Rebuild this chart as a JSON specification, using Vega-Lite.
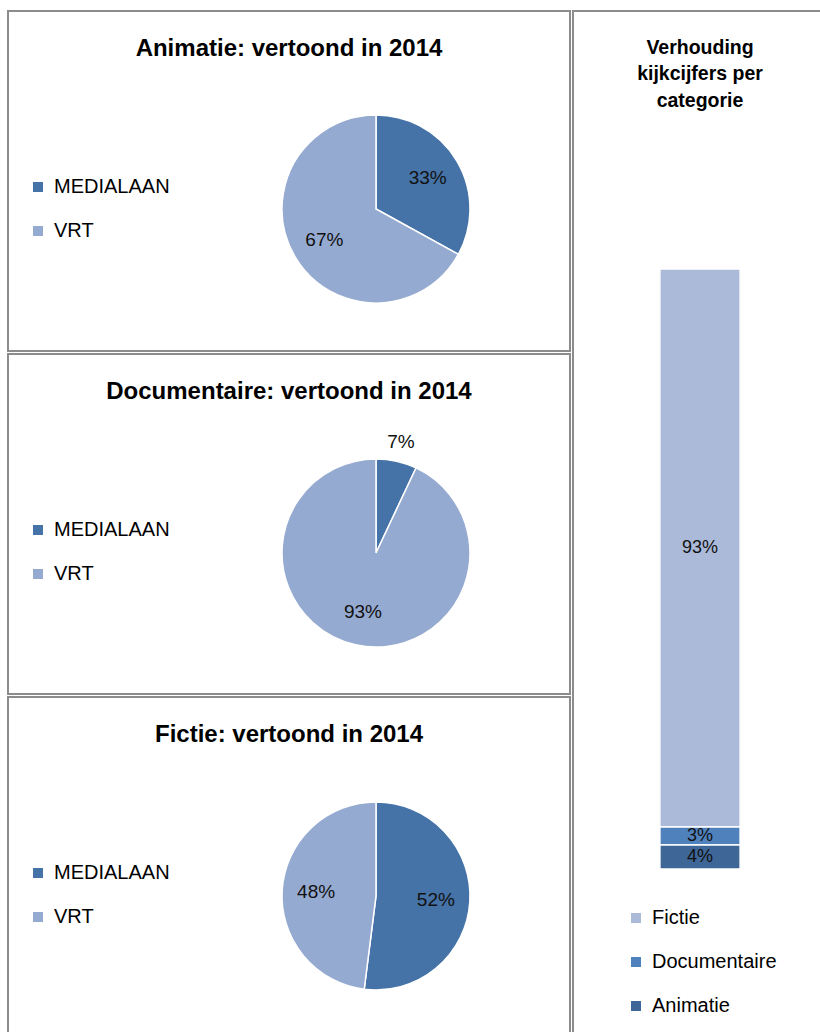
{
  "$schema": "https://vega.github.io/schema/vega-lite/v6.json",
  "padding": {"left": 7, "top": 10, "right": 0, "bottom": 0},
  "background": "white",
  "config": {
    "font": "Liberation Sans",
    "view": {"stroke": "#8c8c8c", "strokeWidth": 2},
    "title": {"fontSize": 24, "fontWeight": "bold", "color": "#000000", "anchor": "middle", "frame": "group"},
    "legend": {"title": null, "symbolType": "square", "symbolSize": 100, "symbolStrokeWidth": 0, "labelFontSize": 20, "labelColor": "#000000", "labelOffset": 6, "rowPadding": 24, "padding": 0, "orient": "none"}
  },
  "datasets": {
    "pies": [
      {"categorie": "Animatie", "zender": "MEDIALAAN", "aandeel": 0.33},
      {"categorie": "Animatie", "zender": "VRT", "aandeel": 0.67},
      {"categorie": "Documentaire", "zender": "MEDIALAAN", "aandeel": 0.07},
      {"categorie": "Documentaire", "zender": "VRT", "aandeel": 0.93},
      {"categorie": "Fictie", "zender": "MEDIALAAN", "aandeel": 0.52},
      {"categorie": "Fictie", "zender": "VRT", "aandeel": 0.48}
    ],
    "bar": [
      {"reeks": "kijkcijfers", "categorie": "Fictie", "aandeel": 0.93},
      {"reeks": "kijkcijfers", "categorie": "Documentaire", "aandeel": 0.03},
      {"reeks": "kijkcijfers", "categorie": "Animatie", "aandeel": 0.04}
    ]
  },
  "hconcat": [
    {
      "vconcat": [
        {
          "width": 562, "height": 340,
          "view": {"stroke": "#8c8c8c", "strokeWidth": 2},
          "title": {"text": "Animatie: vertoond in 2014", "offset": -50},
          "data": {"name": "pies"},
          "transform": [{"filter": "datum.categorie === 'Animatie'"}],
          "encoding": {
            "theta": {"field": "aandeel", "type": "quantitative", "stack": true},
            "order": {"field": "zender", "type": "nominal", "sort": "ascending"}
          },
          "layer": [
            {"mark": {"type": "arc", "outerRadius": 94, "stroke": "white", "strokeWidth": 1.5, "xOffset": 87, "yOffset": 28},
             "encoding": {
               "color": {"field": "zender", "type": "nominal", "scale": {"domain": ["MEDIALAAN", "VRT"], "range": ["#4572a7", "#95aad0"]}, "legend": {"legendX": 20, "legendY": 166}}
             }},
            {"mark": {"type": "text", "fontSize": 19, "color": "#111111", "xOffset": 87, "yOffset": 28},
             "encoding": {
               "detail": {"field": "zender", "type": "nominal"},
               "text": {"field": "aandeel", "type": "quantitative", "format": ".0%"},
               "radius": {"field": "aandeel", "type": "quantitative", "scale": {"type": "linear", "domain": [0.07, 0.33], "range": [114, 60], "clamp": true, "zero": false}}
             }}
          ]
        },
        {
          "width": 562, "height": 340,
          "view": {"stroke": "#8c8c8c", "strokeWidth": 2},
          "title": {"text": "Documentaire: vertoond in 2014", "offset": -50},
          "data": {"name": "pies"},
          "transform": [{"filter": "datum.categorie === 'Documentaire'"}],
          "encoding": {
            "theta": {"field": "aandeel", "type": "quantitative", "stack": true},
            "order": {"field": "zender", "type": "nominal", "sort": "ascending"}
          },
          "layer": [
            {"mark": {"type": "arc", "outerRadius": 94, "stroke": "white", "strokeWidth": 1.5, "xOffset": 87, "yOffset": 29},
             "encoding": {
               "color": {"field": "zender", "type": "nominal", "scale": {"domain": ["MEDIALAAN", "VRT"], "range": ["#4572a7", "#95aad0"]}, "legend": {"legendX": 20, "legendY": 166}}
             }},
            {"mark": {"type": "text", "fontSize": 19, "color": "#111111", "xOffset": 87, "yOffset": 29},
             "encoding": {
               "detail": {"field": "zender", "type": "nominal"},
               "text": {"field": "aandeel", "type": "quantitative", "format": ".0%"},
               "radius": {"field": "aandeel", "type": "quantitative", "scale": {"type": "linear", "domain": [0.07, 0.33], "range": [114, 60], "clamp": true, "zero": false}}
             }}
          ]
        },
        {
          "width": 562, "height": 340,
          "view": {"stroke": "#8c8c8c", "strokeWidth": 2},
          "title": {"text": "Fictie: vertoond in 2014", "offset": -50},
          "data": {"name": "pies"},
          "transform": [{"filter": "datum.categorie === 'Fictie'"}],
          "encoding": {
            "theta": {"field": "aandeel", "type": "quantitative", "stack": true},
            "order": {"field": "zender", "type": "nominal", "sort": "ascending"}
          },
          "layer": [
            {"mark": {"type": "arc", "outerRadius": 94, "stroke": "white", "strokeWidth": 1.5, "xOffset": 87, "yOffset": 29},
             "encoding": {
               "color": {"field": "zender", "type": "nominal", "scale": {"domain": ["MEDIALAAN", "VRT"], "range": ["#4572a7", "#95aad0"]}, "legend": {"legendX": 20, "legendY": 166}}
             }},
            {"mark": {"type": "text", "fontSize": 19, "color": "#111111", "xOffset": 87, "yOffset": 29},
             "encoding": {
               "detail": {"field": "zender", "type": "nominal"},
               "text": {"field": "aandeel", "type": "quantitative", "format": ".0%"},
               "radius": {"field": "aandeel", "type": "quantitative", "scale": {"type": "linear", "domain": [0.07, 0.33], "range": [114, 60], "clamp": true, "zero": false}}
             }}
          ]
        }
      ],
      "spacing": 1,
      "resolve": {"scale": {"color": "independent", "theta": "independent", "radius": "independent"}, "legend": {"color": "independent"}}
    },
    {
      "width": 254, "height": 1030,
      "title": {"text": ["Verhouding", "kijkcijfers per", "categorie"], "fontSize": 19.5, "lineHeight": 26.5, "offset": -100},
      "data": {"name": "bar"},
      "transform": [
        {"stack": "aandeel", "groupby": ["reeks"], "sort": [{"field": "categorie", "order": "ascending"}], "as": ["onder", "boven"]},
        {"calculate": "(datum.onder + datum.boven) / 2", "as": "midden"}
      ],
      "encoding": {
        "x": {"field": "reeks", "type": "nominal", "axis": null, "scale": {"paddingInner": 0.52, "paddingOuter": 0.52}}
      },
      "layer": [
        {"mark": {"type": "bar", "stroke": "white", "strokeWidth": 1.5},
         "encoding": {
           "y": {"field": "onder", "type": "quantitative", "axis": null, "scale": {"domain": [-0.2867, 1.43], "nice": false, "zero": false}},
           "y2": {"field": "boven"},
           "color": {"field": "categorie", "type": "nominal", "scale": {"domain": ["Fictie", "Documentaire", "Animatie"], "range": ["#aabad8", "#4f81bd", "#3e6697"]}, "legend": {"legendX": 53, "legendY": 897}}
         }},
        {"mark": {"type": "text", "fontSize": 18, "color": "#111111"},
         "encoding": {
           "y": {"field": "midden", "type": "quantitative"},
           "text": {"field": "aandeel", "type": "quantitative", "format": ".0%"}
         }}
      ]
    }
  ],
  "spacing": 1,
  "resolve": {"scale": {"color": "independent", "theta": "independent", "radius": "independent", "y": "independent", "x": "independent"}, "legend": {"color": "independent"}}
}
